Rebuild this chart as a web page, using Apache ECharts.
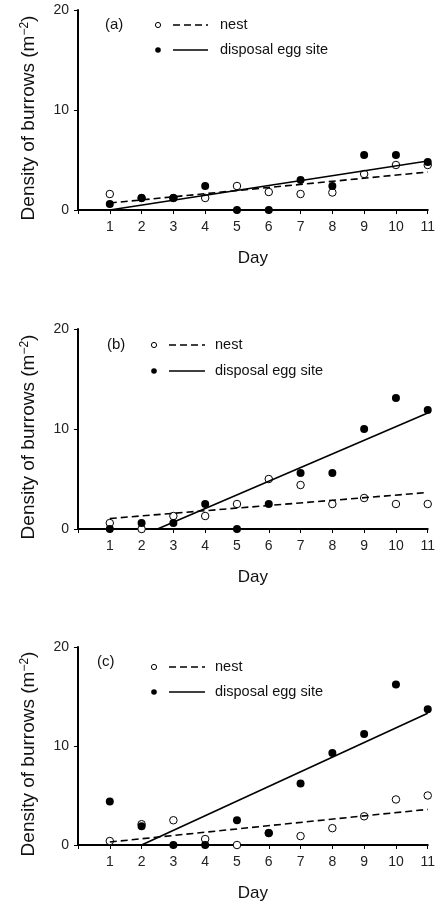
<!DOCTYPE html>
<html>
<head>
<meta charset="utf-8">
<script src="https://cdn.jsdelivr.net/npm/echarts@6/dist/echarts.min.js"></script>
<style>
  html, body { margin: 0; padding: 0; background: #fff; }
  #chart { width: 438px; height: 903px; }
</style>
</head>
<body>
<div id="chart"></div>
<script>
// days on the x axis
var days = [1, 2, 3, 4, 5, 6, 7, 8, 9, 10, 11];
var yTicks = [0, 10, 20];

// panel (a)
var nestA = [1.6, 1.2, 1.2, 1.2, 2.4, 1.8, 1.6, 1.75, 3.6, 4.5, 4.5];
var eggA = [0.6, 1.2, 1.2, 2.4, 0, 0, 3.0, 2.4, 5.5, 5.5, 4.8];
var nestTrendA = [[1, 0.7], [11, 3.8]];
var eggTrendA = [[1, 0], [11, 4.9]];

// panel (b)
var nestB = [0.6, 0, 1.3, 1.3, 2.5, 5.0, 4.4, 2.5, 3.1, 2.5, 2.5];
var eggB = [0, 0.6, 0.6, 2.5, 0, 2.5, 5.6, 5.6, 10.0, 13.1, 11.9];
var nestTrendB = [[1, 1.05], [11, 3.65]];
var eggTrendB = [[2.5, 0], [11, 11.6]];

// panel (c)
var nestC = [0.4, 2.1, 2.5, 0.6, 0, 1.2, 0.9, 1.7, 2.9, 4.6, 5.0];
var eggC = [4.4, 1.9, 0, 0, 2.5, 1.2, 6.2, 9.3, 11.2, 16.2, 13.7];
var nestTrendC = [[1, 0.3], [11, 3.6]];
var eggTrendC = [[2, 0], [11, 13.3]];

var FONT = '"Liberation Sans", Arial, sans-serif';
var chart = echarts.init(document.getElementById('chart'));

function pairs(vals) {
  return days.map(function (d, i) { return [d, vals[i]]; });
}

var grids = [
  { left: 78, right: 5.5, top: 10, height: 200 },
  { left: 78, right: 5.5, top: 329, height: 200 },
  { left: 78, right: 5.5, top: 647, height: 201 }
];

var xAxes = [], yAxes = [], series = [];
var panels = [
  [nestA, eggA, nestTrendA, eggTrendA],
  [nestB, eggB, nestTrendB, eggTrendB],
  [nestC, eggC, nestTrendC, eggTrendC]
];

panels.forEach(function (p, i) {
  xAxes.push({
    gridIndex: i, type: 'value', min: 0, max: 11, interval: 1,
    name: 'Day', nameLocation: 'middle', nameGap: 40,
    nameTextStyle: { fontFamily: FONT, fontSize: 17, color: '#111' },
    axisLine: { lineStyle: { color: '#000', width: 2 } },
    axisTick: { show: true, length: 4, lineStyle: { color: '#000', width: 1 } },
    axisLabel: {
      margin: 10, fontFamily: FONT, fontSize: 14, color: '#222',
      formatter: function (v) { return days.indexOf(v) >= 0 ? String(v) : ''; }
    },
    splitLine: { show: false }
  });
  yAxes.push({
    gridIndex: i, type: 'value', min: yTicks[0], max: yTicks[2], interval: 10,
    name: 'Density of burrows (m{sup|\u22122})', nameLocation: 'middle', nameGap: 39,
    nameTextStyle: {
      fontFamily: FONT, fontSize: 19, color: '#111', padding: [0, 16, 0, 0],
      rich: { sup: { fontFamily: FONT, fontSize: 12, color: '#111', verticalAlign: 'top', padding: [0, 0, 8, 0] } }
    },
    axisLine: { show: true, lineStyle: { color: '#000', width: 2 } },
    axisTick: { show: true, length: 4, lineStyle: { color: '#000', width: 1 } },
    axisLabel: { margin: 9, fontFamily: FONT, fontSize: 14, color: '#222' },
    splitLine: { show: false }
  });
  series.push({
    name: 'nest', type: 'scatter', xAxisIndex: i, yAxisIndex: i,
    data: pairs(p[0]), symbol: 'circle', symbolSize: 7.5, clip: false,
    itemStyle: { color: '#fff', borderColor: '#000', borderWidth: 1, opacity: 1 }, z: 3
  });
  series.push({
    name: 'disposal egg site', type: 'scatter', xAxisIndex: i, yAxisIndex: i,
    data: pairs(p[1]), symbol: 'circle', symbolSize: 8, clip: false,
    itemStyle: { color: '#000', opacity: 1 }, z: 4
  });
  series.push({
    type: 'line', xAxisIndex: i, yAxisIndex: i, data: p[2], showSymbol: false,
    lineStyle: { color: '#000', width: 1.6, type: [7, 4] }, z: 5, silent: true
  });
  series.push({
    type: 'line', xAxisIndex: i, yAxisIndex: i, data: p[3], showSymbol: false,
    lineStyle: { color: '#000', width: 1.6, type: 'solid' }, z: 5, silent: true
  });
});

// legend blocks drawn inside each panel
function legendBlock(tag, tagX, tagY, cx, y1, y2, lx1, lx2, tx) {
  var txt = function (s, x, y, size) {
    return { type: 'text', style: { text: s, x: x, y: y, fontFamily: FONT, fontSize: size, fill: '#111', verticalAlign: 'middle' } };
  };
  return [
    txt(tag, tagX, tagY, 15),
    { type: 'circle', shape: { cx: cx, cy: y1, r: 2.6 }, style: { fill: '#fff', stroke: '#000', lineWidth: 1 } },
    { type: 'line', shape: { x1: lx1, y1: y1, x2: lx2, y2: y1 }, style: { stroke: '#000', lineWidth: 1.6, lineDash: [7, 4] } },
    txt('nest', tx, y1, 14.5),
    { type: 'circle', shape: { cx: cx, cy: y2, r: 2.8 }, style: { fill: '#000' } },
    { type: 'line', shape: { x1: lx1, y1: y2, x2: lx2, y2: y2 }, style: { stroke: '#000', lineWidth: 1.6 } },
    txt('disposal egg site', tx, y2, 14.5)
  ];
}

var graphics = []
  .concat(legendBlock('(a)', 105, 25, 158, 25, 50, 173, 208, 220))
  .concat(legendBlock('(b)', 107, 345, 154, 345, 371, 169, 205, 215))
  .concat(legendBlock('(c)', 97, 662, 154, 667, 692, 169, 205, 215));

chart.setOption({
  backgroundColor: '#ffffff',
  animation: false,
  grid: grids,
  xAxis: xAxes,
  yAxis: yAxes,
  series: series,
  graphic: graphics
});
</script>
</body>
</html>
